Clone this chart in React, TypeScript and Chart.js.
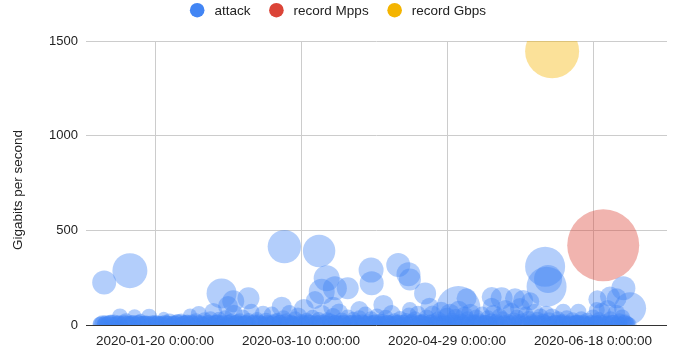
import { useEffect, useRef } from 'react';
import { Chart, registerables } from 'chart.js';

Chart.register(...registerables);

// x values are days since 2020-01-01
const tickDay = [19, 69, 119, 169];
const tickLabel = ['2020-01-20 0:00:00', '2020-03-10 0:00:00', '2020-04-29 0:00:00', '2020-06-18 0:00:00'];
const yTicks = [0, 500, 1000, 1500];

const seriesNames = ['attack', 'record Mpps', 'record Gbps'];
const seriesColor = ['#4285f4', '#db4437', '#f4b400'];
const seriesFill = ['rgba(66,133,244,0.4)', 'rgba(219,68,55,0.4)', 'rgba(244,180,0,0.4)'];

// larger attacks
const majorDay = [1.6, 10.4, 41.8, 45.8, 51, 44, 62.4, 63.3, 75.2, 77.8, 76.1, 80.6, 85, 73.8, 80, 89, 93, 93.2, 102.3, 105.8, 106.3, 111.5, 97.2, 106.3, 113, 122.9, 125.7, 134.3, 137.7, 142.3, 145.1, 152.6, 153.1, 153.6, 158.8, 164, 170.5, 179.4, 177.1, 174.8, 181.7, 170.3, 134.3, 147.5];
const majorGbps = [225, 287, 167, 125, 141, 100, 97, 414, 391, 247, 176, 194, 194, 132, 97, 79, 290, 220, 317, 268, 240, 167, 106, 79, 97, 90, 141, 97, 141, 141, 132, 308, 202, 243, 70, 70, 136, 194, 141, 150, 88, 79, 148, 125];
const majorSize = [12, 17.5, 15, 11, 11, 10, 10, 16.7, 16.2, 13, 13, 12, 11, 9, 10, 9, 12.5, 12, 12, 12, 11, 11, 10, 8, 9, 22, 10, 9, 11, 10, 10, 20, 20, 14, 8, 8, 9, 12, 10, 10, 16, 8, 10, 9];

// medium-small attacks
const minorDay = [
  0, 1, 1, 2, 3, 4, 5, 6, 7, 7, 8, 9,
  10, 11, 12, 12, 13, 14, 15, 16, 17, 18, 19,
  20, 21, 22, 23, 24, 25, 26, 27, 28, 29,
  30, 31, 32, 33, 34, 35, 36, 37, 38, 39,
  40, 41, 42, 43, 44, 45, 46, 47, 48, 49,
  50, 51, 52, 53, 54, 55, 56, 57, 58, 59,
  60, 61, 62, 63, 64, 65, 66, 67, 68, 69,
  70, 71, 72, 73, 74, 75, 76, 77, 78, 79,
  80, 81, 82, 83, 84, 85, 86, 87, 88, 89,
  90, 91, 92, 93, 94, 95, 96, 97, 98, 99,
  100, 101, 102, 103, 104, 105, 106, 107, 108, 109,
  110, 111, 112, 113, 114, 115, 116, 117, 118, 119,
  120, 121, 122, 123, 124, 125, 126, 127, 128, 129,
  130, 131, 132, 133, 134, 135, 136, 137, 138, 139,
  140, 141, 142, 143, 144, 145, 146, 147, 148, 149,
  150, 151, 152, 153, 154, 155, 156, 157, 158, 159,
  160, 161, 162, 163, 164, 165, 166, 167, 168, 169,
  170, 171, 172, 173, 174, 175, 176, 177, 178, 179, 180, 181,
];
const minorGbps = [
  5, 9, 3, 14, 6, 18, 8, 12, 45, 6, 10, 20,
  7, 15, 46, 5, 11, 22, 6, 13, 44, 9, 16,
  8, 12, 38, 7, 19, 10, 5, 15, 24, 9,
  13, 50, 8, 20, 58, 11, 25, 9, 30, 69,
  12, 28, 18, 35, 10, 24, 60, 14, 20, 40,
  11, 26, 70, 15, 32, 9, 60, 22, 13, 55,
  18, 28, 12, 35, 20, 64, 10, 30, 45, 16,
  85, 22, 12, 38, 18, 26, 60, 14, 30, 20,
  48, 12, 66, 24, 15, 40, 10, 28, 18, 35,
  14, 55, 20, 30, 12, 45, 22, 16, 38, 10,
  58, 20, 14, 32, 12, 26, 50, 18, 30, 60,
  15, 24, 40, 12, 55, 20, 30, 70, 14, 45,
  60, 22, 38, 75, 18, 50, 30, 65, 14, 40,
  20, 55, 12, 35, 25, 60, 18, 45, 30, 85,
  15, 70, 24, 40, 90, 20, 55, 32, 14, 65,
  28, 45, 18, 60, 25, 40, 12, 30, 20, 15,
  35, 10, 25, 18, 12, 30, 8, 22, 14, 40,
  10, 26, 70, 15, 85, 30, 12, 60, 20, 40, 14, 8,
];
const minorSize = [
  7, 8, 6, 7, 8, 7, 9, 7, 8, 8, 7, 8,
  8, 7, 7, 8, 8, 7, 8, 7, 8, 8, 7,
  8, 7, 6, 8, 8, 7, 8, 8, 7, 8,
  8, 7, 8, 8, 8, 7, 8, 8, 8, 9,
  8, 8, 7, 8, 8, 7, 9, 8, 8, 8,
  8, 7, 8, 8, 7, 8, 8, 8, 7, 8,
  8, 7, 8, 8, 8, 8, 7, 8, 9, 8,
  10, 8, 8, 8, 7, 8, 9, 8, 7, 8,
  8, 8, 9, 8, 7, 8, 8, 8, 7, 8,
  8, 8, 7, 8, 8, 8, 7, 8, 8, 8,
  9, 8, 7, 8, 8, 7, 8, 8, 8, 8,
  8, 7, 8, 8, 9, 8, 8, 10, 8, 9,
  10, 8, 9, 10, 8, 9, 8, 9, 8, 8,
  8, 8, 8, 8, 7, 9, 8, 8, 8, 9,
  8, 9, 8, 8, 10, 8, 8, 8, 8, 9,
  8, 8, 8, 8, 8, 9, 8, 8, 7, 8,
  8, 8, 8, 7, 8, 8, 8, 8, 7, 8,
  8, 8, 9, 8, 9, 8, 8, 9, 8, 8, 8, 7,
];

// tiny attacks hugging the baseline
const smallDay = [
  0.5, 1.5, 2.5, 3.5, 4.5, 5.5, 6.5, 7.5, 8.5, 9.5,
  10.5, 11.5, 12.5, 13.5, 14.5, 15.5, 16.5, 17.5, 18.5, 19.5,
  20.5, 21.5, 22.5, 23.5, 24.5, 25.5, 26.5, 27.5, 28.5, 29.5,
  30.5, 31.5, 32.5, 33.5, 34.5, 35.5, 36.5, 37.5, 38.5, 39.5,
  40.5, 41.5, 42.5, 43.5, 44.5, 45.5, 46.5, 47.5, 48.5, 49.5,
  50.5, 51.5, 52.5, 53.5, 54.5, 55.5, 56.5, 57.5, 58.5, 59.5,
  60.5, 61.5, 62.5, 63.5, 64.5, 65.5, 66.5, 67.5, 68.5, 69.5,
  70.5, 71.5, 72.5, 73.5, 74.5, 75.5, 76.5, 77.5, 78.5, 79.5,
  80.5, 81.5, 82.5, 83.5, 84.5, 85.5, 86.5, 87.5, 88.5, 89.5,
  90.5, 91.5, 92.5, 93.5, 94.5, 95.5, 96.5, 97.5, 98.5, 99.5,
  100.5, 101.5, 102.5, 103.5, 104.5, 105.5, 106.5, 107.5, 108.5, 109.5,
  110.5, 111.5, 112.5, 113.5, 114.5, 115.5, 116.5, 117.5, 118.5, 119.5,
  120.5, 121.5, 122.5, 123.5, 124.5, 125.5, 126.5, 127.5, 128.5, 129.5,
  130.5, 131.5, 132.5, 133.5, 134.5, 135.5, 136.5, 137.5, 138.5, 139.5,
  140.5, 141.5, 142.5, 143.5, 144.5, 145.5, 146.5, 147.5, 148.5, 149.5,
  150.5, 151.5, 152.5, 153.5, 154.5, 155.5, 156.5, 157.5, 158.5, 159.5,
  160.5, 161.5, 162.5, 163.5, 164.5, 165.5, 166.5, 167.5, 168.5, 169.5,
  170.5, 171.5, 172.5, 173.5, 174.5, 175.5, 176.5, 177.5, 178.5, 179.5, 180.5, 181.5,
];
const smallGbps = [
  4, 8, 3, 10, 6, 2, 9, 5, 12, 7,
  3, 11, 6, 9, 4, 13, 7, 2, 10, 5,
  8, 4, 12, 6, 3, 9, 14, 5, 7, 10,
  6, 13, 4, 9, 11, 3, 8, 12, 5, 10,
  14, 5, 9, 3, 12, 7, 10, 4, 13, 6,
  9, 3, 11, 7, 14, 5, 8, 12, 4, 10,
  5, 12, 8, 3, 10, 13, 6, 9, 4, 11,
  7, 14, 4, 10, 6, 12, 3, 9, 13, 5,
  11, 6, 9, 13, 4, 8, 12, 5, 10, 3,
  9, 12, 5, 8, 14, 4, 10, 6, 13, 7,
  4, 10, 13, 6, 9, 3, 12, 8, 5, 11,
  12, 5, 8, 14, 4, 10, 7, 13, 6, 9,
  6, 13, 9, 4, 11, 7, 14, 5, 10, 8,
  10, 4, 12, 7, 5, 13, 8, 3, 11, 9,
  5, 11, 8, 14, 6, 9, 4, 12, 7, 13,
  9, 6, 13, 4, 10, 7, 12, 5, 8, 11,
  4, 12, 7, 10, 5, 13, 9, 3, 11, 6,
  8, 13, 5, 10, 6, 12, 4, 9, 7, 11, 5, 3,
];
const smallSize = [
  8, 7, 8, 8, 7, 8, 8, 7, 8, 8,
  8, 8, 7, 8, 8, 7, 8, 8, 7, 8,
  7, 8, 8, 8, 7, 8, 8, 7, 8, 8,
  8, 8, 7, 8, 8, 8, 7, 8, 8, 8,
  8, 8, 8, 7, 8, 8, 8, 8, 7, 8,
  8, 7, 8, 8, 8, 8, 7, 8, 8, 8,
  8, 8, 7, 8, 8, 8, 8, 7, 8, 8,
  8, 8, 8, 7, 8, 8, 8, 8, 7, 8,
  8, 8, 8, 8, 7, 8, 8, 8, 8, 7,
  8, 7, 8, 8, 8, 8, 7, 8, 8, 8,
  8, 8, 8, 7, 8, 8, 8, 8, 7, 8,
  8, 8, 7, 8, 8, 8, 8, 7, 8, 8,
  7, 8, 8, 8, 8, 7, 8, 8, 8, 8,
  8, 8, 8, 8, 7, 8, 8, 8, 8, 7,
  8, 8, 7, 8, 8, 8, 8, 7, 8, 8,
  8, 8, 8, 8, 7, 8, 8, 8, 8, 7,
  8, 7, 8, 8, 8, 8, 7, 8, 8, 8,
  8, 8, 8, 7, 8, 8, 8, 8, 7, 8, 8, 7,
];

const recordMppsDay = [172.5];
const recordMppsGbps = [421];
const recordMppsSize = [36];

const recordGbpsDay = [155];
const recordGbpsGbps = [1446];
const recordGbpsSize = [27];

const FONT = 'Arial, "Liberation Sans", sans-serif';
const TEXT = '#222222';

function toPoints(days: number[], vals: number[], sizes: number[]) {
  return days.map((d, i) => ({ x: d, y: vals[i], r: sizes[i] }));
}

function zeroPadding(scale: any) {
  scale.paddingLeft = 0;
  scale.paddingRight = 0;
  scale.paddingTop = 0;
  scale.paddingBottom = 0;
}

const overlayPlugin = {
  id: 'overlayText',
  afterDraw(chart: any) {
    const ctx = chart.ctx as CanvasRenderingContext2D;
    ctx.save();
    ctx.font = `13.5px ${FONT}`;
    ctx.textBaseline = 'middle';
    ctx.textAlign = 'left';
    const R = 7.3;
    const toText = 17.2;
    const toNext = 26;
    const widths = seriesNames.map((s) => ctx.measureText(s).width);
    const total = R + seriesNames.length * toText + widths.reduce((a, b) => a + b, 0) + (seriesNames.length - 1) * toNext;
    let x = (chart.width - total) / 2 + R;
    seriesNames.forEach((name, i) => {
      ctx.fillStyle = seriesColor[i];
      ctx.beginPath();
      ctx.arc(x, 10.2, R, 0, Math.PI * 2);
      ctx.fill();
      ctx.fillStyle = TEXT;
      ctx.fillText(name, x + toText, 11);
      x += toText + widths[i] + toNext;
    });
    // y axis title
    ctx.translate(18.7, 190);
    ctx.rotate(-Math.PI / 2);
    ctx.textAlign = 'center';
    ctx.fillStyle = TEXT;
    ctx.fillText('Gigabits per second', 0, 0);
    ctx.restore();
  },
};

export default function App() {
  const ref = useRef<HTMLCanvasElement | null>(null);

  useEffect(() => {
    document.body.style.margin = '0';
    const canvas = ref.current;
    if (!canvas) return;
    const chart = new Chart(canvas, {
      type: 'bubble',
      data: {
        datasets: [
          {
            label: seriesNames[0],
            data: [
              ...toPoints(smallDay, smallGbps, smallSize),
              ...toPoints(minorDay, minorGbps, minorSize),
              ...toPoints(majorDay, majorGbps, majorSize),
            ],
            backgroundColor: seriesFill[0],
            borderWidth: 0,
            clip: 0,
          } as any,
          {
            label: seriesNames[1],
            data: toPoints(recordMppsDay, recordMppsGbps, recordMppsSize),
            backgroundColor: seriesFill[1],
            borderWidth: 0,
            clip: 0,
          } as any,
          {
            label: seriesNames[2],
            data: toPoints(recordGbpsDay, recordGbpsGbps, recordGbpsSize),
            backgroundColor: seriesFill[2],
            borderWidth: 0,
            clip: 0,
          } as any,
        ],
      },
      options: {
        responsive: false,
        animation: false,
        events: [],
        layout: { autoPadding: false, padding: { top: 41, right: 9, left: 0, bottom: 0 } },
        plugins: {
          legend: { display: false },
          tooltip: { enabled: false },
        },
        scales: {
          x: {
            type: 'linear',
            min: -4.63,
            max: 194.34,
            afterBuildTicks: (scale: any) => {
              scale.ticks = tickDay.map((v) => ({ value: v }));
            },
            afterFit: (scale: any) => {
              scale.height = 29;
              zeroPadding(scale);
            },
            ticks: {
              autoSkip: false,
              maxRotation: 0,
              padding: 8,
              color: TEXT,
              font: { family: FONT, size: 13.5 },
              callback: (_v: any, i: number) => tickLabel[i],
            },
            grid: { color: '#cccccc', drawTicks: false, lineWidth: 1 },
            border: { display: false },
          },
          y: {
            type: 'linear',
            min: 0,
            max: 1500,
            afterBuildTicks: (scale: any) => {
              scale.ticks = yTicks.map((v) => ({ value: v }));
            },
            afterFit: (scale: any) => {
              scale.width = 86;
              zeroPadding(scale);
            },
            ticks: {
              padding: 8,
              color: TEXT,
              font: { family: FONT, size: 13 },
              callback: (v: any) => String(v),
            },
            grid: {
              color: (c: any) => (c.tick && c.tick.value === 0 ? '#333333' : '#cccccc'),
              drawTicks: false,
              lineWidth: 1,
            },
            border: { display: false },
          },
        },
      },
      plugins: [overlayPlugin],
    } as any);
    return () => chart.destroy();
  }, []);

  return (
    <div style={{ width: 676, height: 354 }}>
      <canvas ref={ref} width={676} height={354} />
    </div>
  );
}
